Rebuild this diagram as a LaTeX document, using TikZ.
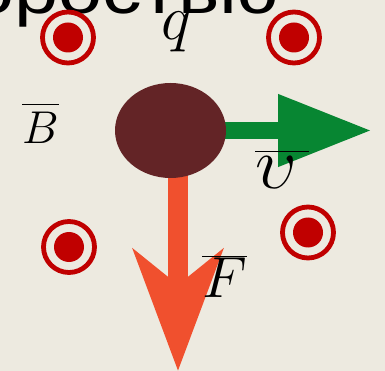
\RequirePackage{fix-cm}
\documentclass[tikz,border=0pt]{standalone}
\usepackage{fontspec}
\newfontfamily\cyrfont[FakeStretch=1.2]{Liberation Sans}
\usepackage{tikz}
\usetikzlibrary{arrows.meta, positioning, shapes.geometric}
\definecolor{BoardBeige}{RGB}{237,234,224}
\definecolor{FieldRed}{RGB}{192,0,0}
\definecolor{ChargeBrown}{RGB}{99,36,38}
\definecolor{VelGreen}{RGB}{7,134,50}
\definecolor{ForceRed}{RGB}{240,80,46}
\pgfdeclarelayer{back}
\pgfdeclarelayer{vectors}
\pgfsetlayers{back,vectors,main}

\begin{document}
\begin{tikzpicture}[x=1pt, y=-1pt,
    field/.style={circle, draw=FieldRed, line width=4.8pt, minimum size=51pt, inner sep=0pt,
        path picture={\fill[FieldRed] (path picture bounding box.center) circle (15pt);}},
    charge/.style={ellipse, fill=ChargeBrown, minimum width=111pt, minimum height=95pt, inner sep=0pt},
    vecname/.style={inner sep=0pt, anchor=base west},
    vel/.style={VelGreen, line width=17pt, -{Triangle[length=94pt, width=68pt]}},
    force/.style={ForceRed, line width=20pt, -{Stealth[length=121pt, width=89pt, inset=35pt]}}
]
\useasboundingbox (0,0) rectangle (385,371);
\begin{pgfonlayer}{back}
\fill[BoardBeige] (0,0) rectangle (385,371);
\end{pgfonlayer}
\clip (0,0) rectangle (385,371);

% caption cut by the top edge
\node[anchor=base east, inner sep=0pt, font=\cyrfont\fontsize{66}{66}\selectfont] (caption) at (279,14) {скоростью};

% field lines pointing out of the page
\node[field] (fa) at (68,37.5) {};
\node[field] (fb) at (294,37.5) {};
\node[field] (fc) at (69,247) {};
\node[field] (fd) at (308,232.5) {};

% the moving charge
\node[charge] (q) at (170.5,130.5) {};
\coordinate (vtip) at (372,130.5);
\coordinate (ftip) at (178,371);

\begin{pgfonlayer}{vectors}
\draw[vel] (q.center) -- (vtip);
\draw[force] (q.center -| ftip) -- (ftip);
\end{pgfonlayer}

\node[vecname, font=\fontsize{64}{64}\selectfont] (qname) at (161,40) {$q$};
\node[vecname, font=\fontsize{46}{46}\selectfont] (bname) at (22,144) {$\overline{\vrule height .84em width 0pt B}$};
\node[vecname, font=\fontsize{74}{74}\selectfont] (vname) at (255,189) {$\overline{\vrule height .49em width 0pt \upsilon\mkern3mu}$};
\node[vecname, font=\fontsize{58}{58}\selectfont] (fname) at (202,297) {$\overline{F}$};
\end{tikzpicture}
\end{document}
